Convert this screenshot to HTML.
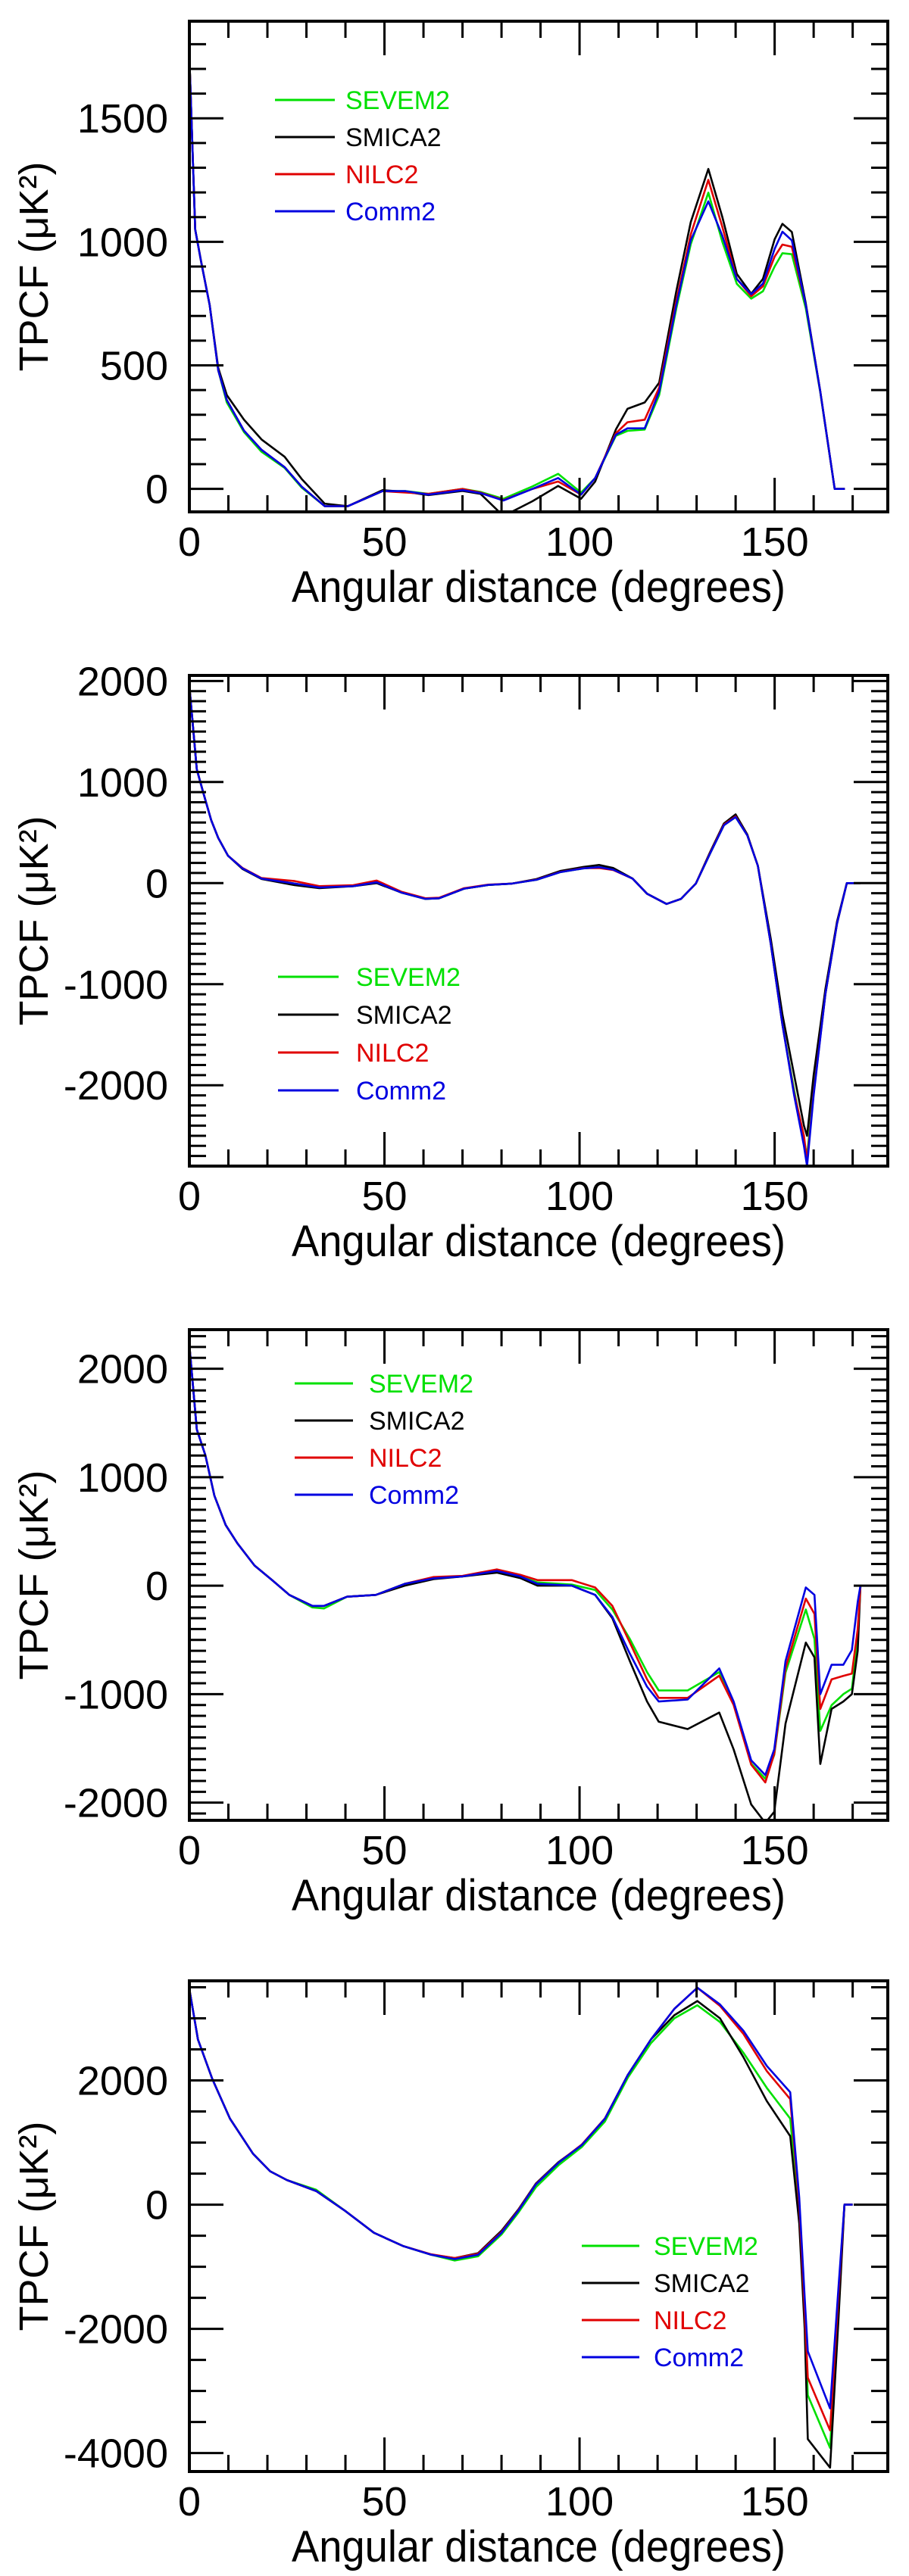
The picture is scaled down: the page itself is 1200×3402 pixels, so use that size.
<!DOCTYPE html>
<html><head><meta charset="utf-8"><title>TPCF panels</title>
<style>
html,body{margin:0;padding:0;background:#fff;}
svg{display:block;}
text{font-family:"Liberation Sans",Arial,sans-serif;}
</style></head>
<body>
<svg id="fig" width="1200" height="3402" viewBox="0 0 1200 3402" xmlns="http://www.w3.org/2000/svg"></svg>
<script>
// ---------- data ----------
const seriesNames = ["SEVEM2","SMICA2","NILC2","Comm2"];
const seriesColors = ["#00e000","#000000","#e00000","#0000e0"];

// Panel 1
const p1X = [0,1.5,3,5.2,7.4,9.6,14,18.5,24.4,28.8,34.7,40.6,49.5,55.4,61.3,70,74.6,80.5,87.9,94.5,100.4,104,109.3,112.3,116.7,120.4,124.8,128.5,133,136.6,140.3,144,147,150,152,154.4,158,161.7,165.4,168];
const p1Green = [1750,1050,920,744,480,350,230,150,85,5,-70,-70,-9,-9,-20,0,-12,-40,10,61,-15,44,215,235,240,380,730,990,1199,1000,830,770,800,900,954,950,730,390,0,0];
const p1Black = [1750,1050,920,744,490,380,280,200,130,40,-60,-70,-5,-12,-25,-8,-20,-110,-50,12,-40,30,240,324,350,430,800,1080,1295,1100,870,790,850,1010,1073,1040,750,394,0,0];
const p1Red = [1750,1050,920,744,480,360,236,158,88,9,-70,-70,-9,-15,-20,0,-15,-45,0,30,-23,44,225,270,280,410,760,1030,1251,1060,850,780,820,940,989,980,744,394,0,0];
const p1Blue = [1750,1050,920,744,480,360,236,158,88,9,-70,-70,-9,-9,-23,-5,-17,-47,0,44,-23,44,219,245,245,394,744,1006,1164,1024,849,788,831,971,1041,1006,744,394,0,0];

// Panel 2
const p2X = [0,1.9,3.7,5.6,7.4,9.9,13.6,18.5,27,33.3,42,48,54.3,60.5,64,70.4,76.6,82.7,89,95,101,105,108.6,113.6,117.3,122.3,126,129.8,133.5,137,140,143,145.7,149,152,155,157.5,158.3,160,163,166,168.5,172];
const p2Green = [1950,1125,875,623,447,271,146,45,-5,-43,-30,8,-93,-156,-150,-55,-18,-5,33,108,146,158,133,45,-105,-206,-156,-5,296,573,653,472,171,-600,-1400,-2050,-2550,-2700,-2050,-1100,-400,0,0];
const p2Black = [1950,1125,875,623,447,271,140,40,-20,-50,-30,0,-93,-156,-150,-55,-18,-5,40,120,160,180,150,45,-105,-206,-156,-5,310,590,680,480,171,-550,-1300,-1900,-2400,-2500,-1900,-1050,-380,0,0];
const p2Red = [1950,1125,875,623,447,271,150,50,20,-30,-20,25,-85,-150,-145,-50,-15,-5,35,110,148,150,130,45,-105,-206,-156,-5,300,580,660,472,171,-600,-1400,-2080,-2500,-2750,-2080,-1100,-400,0,0];
const p2Blue = [1950,1125,875,623,447,271,146,45,-5,-43,-30,8,-93,-156,-150,-55,-18,-5,33,108,146,158,133,45,-105,-206,-156,-5,296,573,653,472,171,-600,-1400,-2100,-2600,-2800,-2100,-1100,-400,0,0];

// Panel 3
const p3X = [0,1.9,4.1,6.4,9.3,12.3,16.7,21.2,25.6,31.5,34.5,40.4,47.8,55.2,62.6,70,78.8,84.8,89.2,98,104,108.4,112.9,117.3,120.3,127.7,135.8,139.5,144,147.6,149.9,152.8,158,160.2,161.7,164.6,167.6,169.8,171.3,172];
const p3Green = [2220,1440,1203,830,559,390,186,51,-85,-200,-210,-102,-85,17,68,85,136,85,30,10,-40,-220,-491,-797,-966,-966,-797,-1080,-1640,-1780,-1560,-800,-220,-491,-1339,-1102,-1000,-950,-500,0];
const p3Black = [2220,1440,1203,830,559,390,186,51,-85,-186,-186,-102,-85,0,60,85,120,70,0,0,-85,-300,-695,-1068,-1254,-1322,-1170,-1509,-2017,-2187,-2085,-1271,-525,-661,-1644,-1136,-1068,-1000,-600,0];
const p3Red = [2220,1440,1203,830,559,390,186,51,-85,-186,-186,-102,-85,17,80,90,150,100,51,51,-17,-186,-525,-864,-1034,-1034,-830,-1100,-1650,-1814,-1550,-760,-119,-260,-1136,-864,-831,-810,-400,0];
const p3Blue = [2220,1440,1203,830,559,390,186,51,-85,-186,-186,-102,-85,17,68,85,136,85,17,0,-85,-288,-627,-932,-1068,-1050,-763,-1068,-1610,-1746,-1509,-695,-17,-85,-1000,-729,-729,-593,-150,0];

// Panel 4
const p4X = [0,2.2,5.9,10.4,16.3,20.7,25,32.5,39.9,47.3,54.7,62,68,74,80,84.3,88.8,94.7,100.6,106.5,112.4,118.3,124.3,130.2,136,142,148,154,156.3,157.7,158.5,164.2,166.4,167.9,170];
const p4Green = [3470,2660,2020,1385,820,537,396,240,-99,-452,-665,-806,-900,-830,-480,-130,280,640,930,1340,2050,2600,3000,3210,2941,2446,1880,1386,-200,-1800,-3068,-3917,-1600,0,0];
const p4Black = [3470,2660,2020,1385,820,537,396,219,-99,-452,-665,-806,-860,-780,-420,-80,340,690,962,1385,2093,2660,3050,3280,3000,2375,1668,1103,-300,-2000,-3775,-4235,-1800,0,0];
const p4Red = [3470,2660,2020,1385,820,537,396,219,-99,-452,-665,-800,-860,-790,-440,-90,330,680,970,1390,2093,2660,3153,3493,3200,2750,2150,1700,0,-1700,-2786,-3634,-1400,0,0];
const p4Blue = [3470,2660,2020,1385,820,537,396,219,-99,-452,-665,-806,-877,-806,-452,-99,325,679,962,1385,2093,2660,3153,3493,3224,2800,2234,1810,113,-1500,-2361,-3280,-1300,0,0];

// y ranges and tick labels
const p1YRange = [-93,1893];  const p1YTicks = [0,500,1000,1500];  const p1YMinor = 100;
const p2YRange = [-2800,2055]; const p2YTicks = [-2000,-1000,0,1000,2000]; const p2YMinor = 100;
const p3YRange = [-2163,2360]; const p3YTicks = [-2000,-1000,0,1000,2000]; const p3YMinor = 100;
const p4YRange = [-4297,3604]; const p4YTicks = [-4000,-2000,0,2000]; const p4YMinor = 500;
const xRange = [0,179];
const xTicks = [0,50,100,150];

// ---------- layout ----------
const NS = "http://www.w3.org/2000/svg";
const svg = document.getElementById("fig");
const L = 250, R = 1172, H = 648;
function mk(tag, attrs, parent){
  const e = document.createElementNS(NS, tag);
  for (const k in attrs) e.setAttribute(k, attrs[k]);
  (parent||svg).appendChild(e);
  return e;
}

const panels = [
  {top:28,  yr:p1YRange, yt:p1YTicks, ym:p1YMinor, x:p1X, s:[p1Green,p1Black,p1Red,p1Blue], leg:{x0:113,x1:192,tx:206,y0:104,dy:49}},
  {top:892, yr:p2YRange, yt:p2YTicks, ym:p2YMinor, x:p2X, s:[p2Green,p2Black,p2Red,p2Blue], leg:{x0:117,x1:197,tx:220,y0:398,dy:50}},
  {top:1756,yr:p3YRange, yt:p3YTicks, ym:p3YMinor, x:p3X, s:[p3Green,p3Black,p3Red,p3Blue], leg:{x0:139,x1:216,tx:237,y0:71,dy:49}},
  {top:2616,yr:p4YRange, yt:p4YTicks, ym:p4YMinor, x:p4X, s:[p4Green,p4Black,p4Red,p4Blue], leg:{x0:518,x1:594,tx:613,y0:350,dy:49}}
];

panels.forEach((p, pi) => {
  const g = mk("g", {});
  
  
  const T = p.top, B = p.top + H;
  const sx = v => L + (v - xRange[0]) / (xRange[1] - xRange[0]) * (R - L);
  const sy = v => B - (v - p.yr[0]) / (p.yr[1] - p.yr[0]) * H;

  const cp = mk("clipPath", {id:"clip"+pi}, g);
  mk("rect", {x:L, y:T, width:R-L, height:H}, cp);

  const sg = mk("g", {"clip-path":"url(#clip"+pi+")"}, g);
  p.s.forEach((arr, si) => {
    const pts = p.x.map((xv, i) => sx(xv).toFixed(1) + "," + sy(arr[i]).toFixed(1)).join(" ");
    const pl = mk("polyline", {points:pts, fill:"none", stroke:seriesColors[si], "stroke-width":2.6, "stroke-linejoin":"round"}, sg);
    
    
  });

  const tg = mk("g", {stroke:"#000", "stroke-width":3}, g);
  for (let v = 0; v <= xRange[1]; v += 10) {
    const len = (v % 50 === 0) ? 45 : 22;
    const x = sx(v);
    mk("line", {x1:x, y1:B, x2:x, y2:B-len}, tg);
    mk("line", {x1:x, y1:T, x2:x, y2:T+len}, tg);
  }
  const start = Math.ceil(p.yr[0] / p.ym) * p.ym;
  for (let v = start; v <= p.yr[1]; v += p.ym) {
    const major = p.yt.indexOf(v) >= 0;
    const len = major ? 45 : 22;
    const y = sy(v);
    mk("line", {x1:L, y1:y, x2:L+len, y2:y}, tg);
    mk("line", {x1:R, y1:y, x2:R-len, y2:y}, tg);
  }
  const fr = mk("rect", {x:L, y:T, width:R-L, height:H, fill:"none", stroke:"#000", "stroke-width":4}, g);
  
  

  p.yt.forEach(v => {
    const t = mk("text", {x:222, y:sy(v)+19, "text-anchor":"end", "font-size":54, fill:"#000"}, g);
    t.textContent = String(v);
    
    
  });
  xTicks.forEach(v => {
    const t = mk("text", {x:sx(v), y:B+58, "text-anchor":"middle", "font-size":54, fill:"#000"}, g);
    t.textContent = String(v);
    
    
  });
  const xt = mk("text", {x:(L+R)/2, y:B+119, "text-anchor":"middle", "font-size":58, fill:"#000", textLength:652, lengthAdjust:"spacingAndGlyphs"}, g);
  xt.textContent = "Angular distance (degrees)";
  
  
  const cy = T + H/2;
  const yt = mk("text", {x:0, y:0, "text-anchor":"middle", "font-size":54, fill:"#000", transform:"translate(63," + cy + ") rotate(-90)"}, g);
  yt.textContent = "TPCF (\u03BCK\u00B2)";
  
  

  const lg = mk("g", {}, g);
  
  
  seriesNames.forEach((nm, si) => {
    const y = T + p.leg.y0 + si * p.leg.dy;
    const ln = mk("line", {x1:L+p.leg.x0, y1:y, x2:L+p.leg.x1, y2:y, stroke:seriesColors[si], "stroke-width":3}, lg);
    
    
    const t = mk("text", {x:L+p.leg.tx, y:y+12, "font-size":34, fill:seriesColors[si]}, lg);
    t.textContent = nm;
    
    
  });
});
</script>
</body></html>
